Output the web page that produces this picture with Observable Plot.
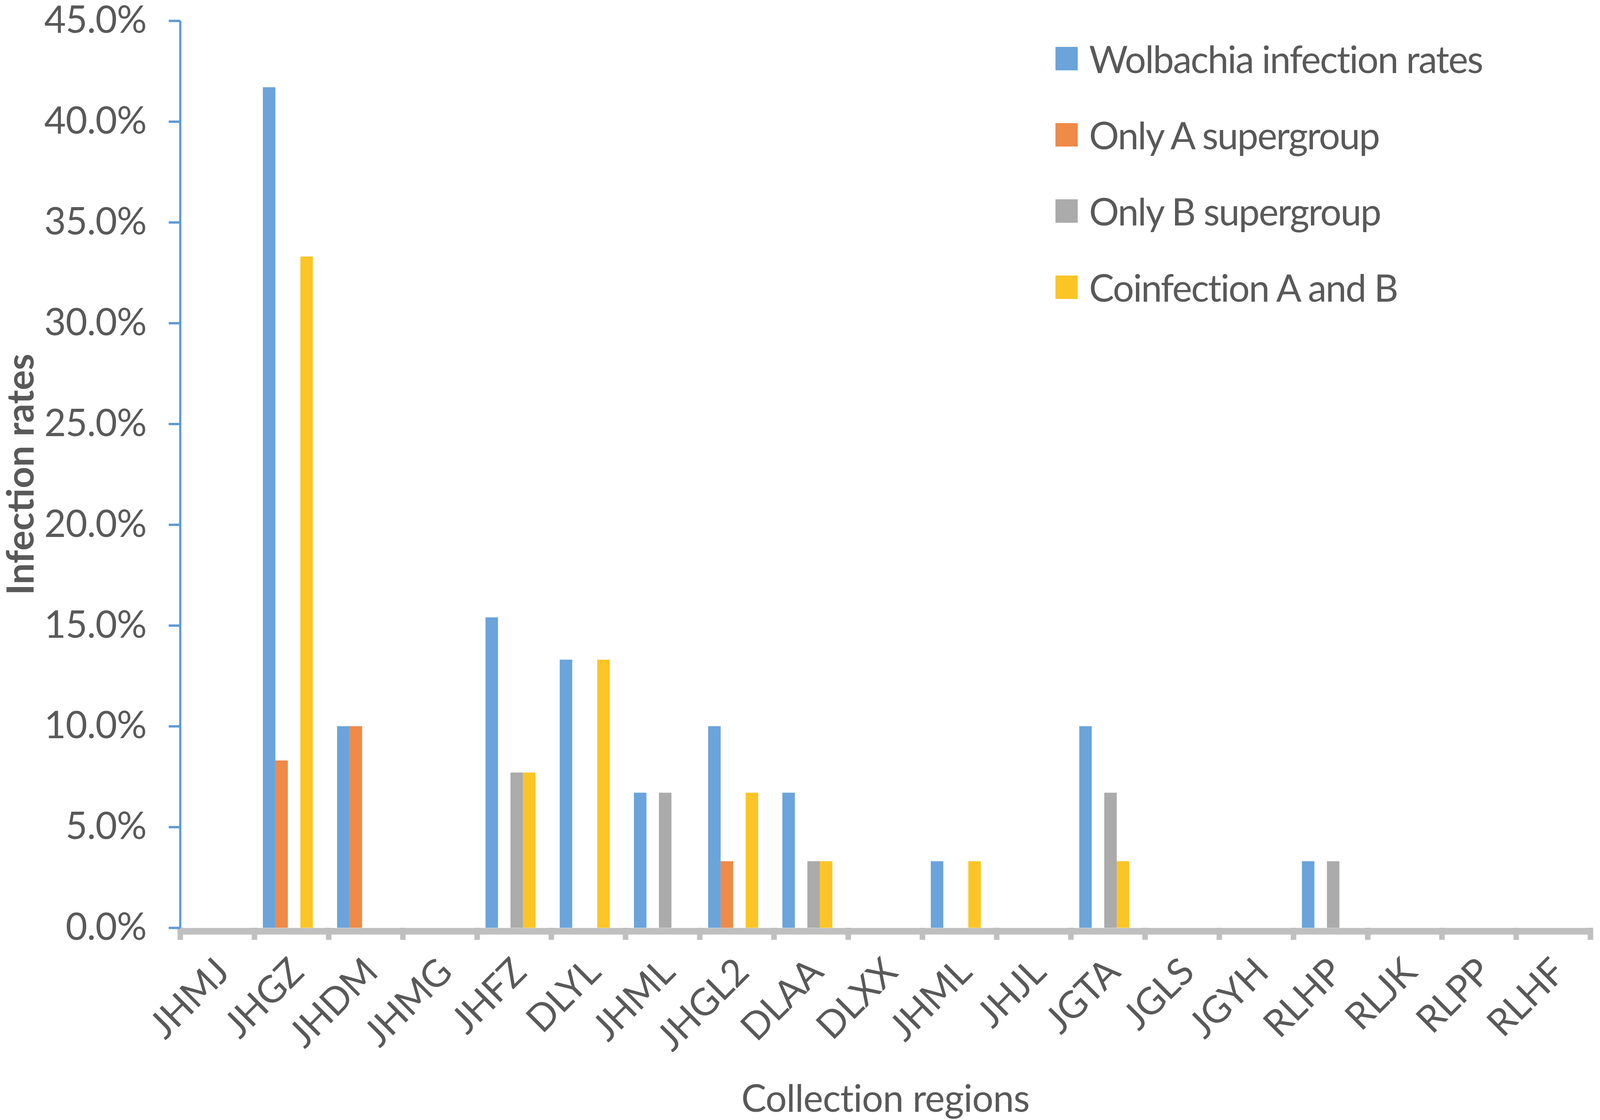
<!DOCTYPE html>
<html>
<head>
<meta charset="utf-8">
<script src="https://cdn.jsdelivr.net/npm/d3@7"></script>
<script src="https://cdn.jsdelivr.net/npm/@observablehq/plot@0.6"></script>
<style>
  html, body { margin: 0; padding: 0; background: #ffffff; overflow: hidden; }
  #wrap { position: relative; font-family: Lato, "Open Sans", sans-serif; overflow: hidden; }
  #chart svg { display: block; }
  #chart svg text { letter-spacing: -1px; }
  #legend { position: absolute; display: flex; flex-direction: column; }
  .lrow { display: flex; align-items: center; }
  .ltx { font-size: 96px; letter-spacing: -2.5px; color: #595959; white-space: nowrap; line-height: 1; }
  #chart svg g[aria-label="y-axis label"] text { font-weight: bold; font-size: 96px; letter-spacing: 0; }
</style>
</head>
<body>
<div id="wrap"><div id="chart"></div><div id="legend"></div></div>
<script>
// ---- data ----
const regions = ["JHMJ","JHGZ","JHDM","JHMG","JHFZ","DLYL","JHML","JHGL2","DLAA","DLXX","JHML","JHJL","JGTA","JGLS","JGYH","RLHP","RLJK","RLPP","RLHF"];
const seriesNames = ["Wolbachia infection rates","Only A supergroup","Only B supergroup","Coinfection A and B"];
const wolbachia = [0, 41.7, 10.0, 0, 15.4, 13.3, 6.7, 10.0, 6.7, 0, 3.3, 0, 10.0, 0, 0, 3.3, 0, 0, 0];
const onlyA     = [0,  8.3, 10.0, 0,  0,    0,   0,   3.3, 0,   0, 0,   0, 0,    0, 0, 0,   0, 0, 0];
const onlyB     = [0,  0,    0,   0,  7.7,  0,   6.7, 0,   3.3, 0, 0,   0, 6.7,  0, 0, 3.3, 0, 0, 0];
const coinf     = [0, 33.3,  0,   0,  7.7, 13.3, 0,   6.7, 3.3, 0, 3.3, 0, 3.3,  0, 0, 0,   0, 0, 0];
const yTicks = [0, 5, 10, 15, 20, 25, 30, 35, 40, 45];
const seriesColors = ["#6AA4DB", "#EF8A47", "#ABABAB", "#FBC526"];

const seriesValues = [wolbachia, onlyA, onlyB, coinf];
const table = [];
regions.forEach((r, i) => {
  seriesNames.forEach((s, k) => table.push({idx: i, series: s, value: seriesValues[k][i]}));
});

// ---- layout (proportions of the 4353 x 2866 reference, fitted to the window) ----
const RW = 4353, RH = 2866;
const W = window.innerWidth || RW, H = window.innerHeight || RH;
const sx = W / RW, sy = H / RH;
const ml = 489 * sx, mr = 26 * sx, mt = 53 * sy, mb = 492 * sy;
const band = (W - ml - mr) / regions.length;
const axisBlue = "#5B9BD5", axisGray = "#BFBFBF", textGray = "#595959";

const wrap = document.getElementById("wrap");
wrap.style.width = W + "px";
wrap.style.height = H + "px";

const chart = Plot.plot({
  width: W, height: H,
  marginLeft: ml, marginRight: mr, marginTop: mt, marginBottom: mb,
  style: {fontFamily: "Lato, 'Open Sans', sans-serif", fontSize: "96px", color: textGray, background: "#ffffff"},
  fx: {domain: d3.range(regions.length), padding: 0},
  x: {domain: seriesNames, paddingInner: 0, paddingOuter: 0.93, align: 0.35, axis: null},
  y: {domain: [0, 45], axis: null},
  color: {domain: seriesNames, range: seriesColors},
  marks: [
    Plot.barY(table, {fx: "idx", x: "series", y: "value", fill: "series"}),
    Plot.axisFx({anchor: "bottom", text: null, label: null, tickSize: 31 * sy, dx: -band / 2, stroke: axisGray, strokeWidth: 15 * sx}),
    Plot.axisFx({anchor: "bottom", text: null, label: null, ticks: [regions.length - 1], tickSize: 31 * sy, dx: band / 2, stroke: axisGray, strokeWidth: 15 * sx}),
    Plot.ruleY([0], {stroke: axisGray, strokeWidth: 17 * sy, dy: 8.5 * sy}),
    Plot.ruleX([0], {fx: d => d, x: null, y1: 0, y2: 45, dx: -band / 2, stroke: axisBlue, strokeWidth: 6 * sx}),
    Plot.axisY({
      ticks: yTicks, tickFormat: d => d.toFixed(1) + "%",
      tickSize: 31 * sx, tickPadding: 61 * sx, stroke: axisBlue, strokeWidth: 6 * sy, fill: textGray,
      label: "Infection rates", labelAnchor: "center", labelArrow: false, labelOffset: 472 * sx
    }),
    Plot.axisFx({
      anchor: "bottom", tickSize: 0, tickPadding: 97 * sy, tickRotate: -45, dx: 15 * sx,
      tickFormat: i => regions[i], fill: textGray,
      label: null
    }),
    Plot.axisFx({
      anchor: "bottom", text: null, tickSize: 0,
      label: "Collection regions", labelAnchor: "center", labelArrow: false, labelOffset: 470 * sy
    })
  ]
});
document.getElementById("chart").appendChild(chart);

// ---- legend ----
const legend = document.getElementById("legend");
legend.style.left = (2872 * sx) + "px";
legend.style.top = (52 * sy) + "px";
seriesNames.forEach((s, k) => {
  const row = document.createElement("div");
  row.className = "lrow";
  row.style.height = (195 * sy) + "px";
  const sw = document.createElement("div");
  sw.style.width = (60 * sx) + "px";
  sw.style.height = (60 * sy) + "px";
  sw.style.marginRight = (31 * sx) + "px";
  sw.style.background = seriesColors[k];
  const tx = document.createElement("div");
  tx.className = "ltx";
  tx.textContent = s;
  row.appendChild(sw); row.appendChild(tx);
  legend.appendChild(row);
});
</script>
</body>
</html>
